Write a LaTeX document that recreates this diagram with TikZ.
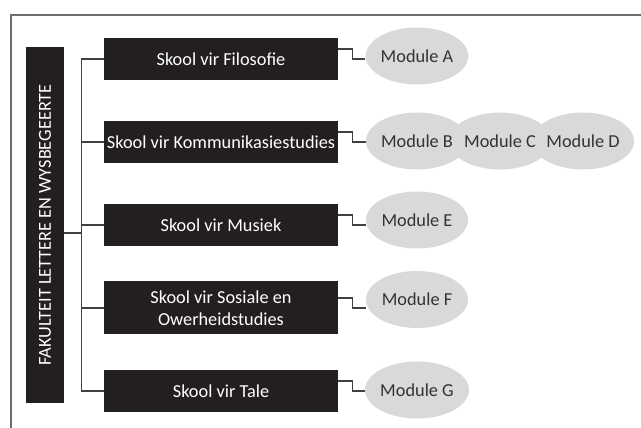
\documentclass[tikz,border=0pt]{standalone}
\usepackage{fontspec}
\setmainfont{Carlito}
\usetikzlibrary{positioning,shapes.geometric,backgrounds}
\definecolor{boxblack}{HTML}{231F20}
\definecolor{modgray}{HTML}{D9D9D9}
\definecolor{linkgray}{HTML}{404040}
\definecolor{framegray}{HTML}{6E6E6E}

\begin{document}
\begin{tikzpicture}[x=1pt,y=1pt,node distance=83pt,
  school node/.style={fill=boxblack,text=white,minimum width=234pt,minimum height=42pt,inner sep=0pt,align=center,font=\fontsize{18.3}{22}\selectfont},
  fak node/.style={school node,rotate=90,minimum width=356pt,minimum height=38pt},
  module node/.style={ellipse,fill=modgray,text=black!80,minimum width=102pt,minimum height=57pt,inner sep=0pt,font=\fontsize{18.3}{22}\selectfont},
  link/.style={draw=linkgray,line width=1.2pt}]

    \useasboundingbox (0,0) rectangle (641,428);
    \draw[framegray,line width=1.5pt] (11,0) -- (11,413) -- (641,413);

    \node[fak node] (fak) at (45,203) {FAKULTEIT LETTERE EN WYSBEGEERTE};

    \node[school node] (s1) at (221,369) {Skool vir Filosofie};
    \node[school node] (s2) [below of = s1] {Skool vir Kommunikasiestudies};
    \node[school node] (s3) [below of = s2] {Skool vir Musiek};
    \node[school node,minimum height=53pt] (s4) [below of = s3] {Skool vir Sosiale en\\Owerheidstudies};
    \node[school node] (s5) [below of = s4] {Skool vir Tale};

    \node[module node] (mA) [node distance=196pt, right of = s1, yshift=3pt] {Module A};
    % overlapping row: filled behind, text on top
    \node[module node,fill=none] (mB) [node distance=196pt, right of = s2, yshift=1pt] {Module B};
    \node[module node,fill=none] (mC) [right of = mB] {Module C};
    \node[module node,fill=none] (mD) [right of = mC] {Module D};
    \node[module node] (mE) [node distance=196pt, right of = s3, yshift=5pt] {Module E};
    \node[module node] (mF) [node distance=196pt, right of = s4, yshift=8.5pt] {Module F};
    \node[module node] (mG) [node distance=196pt, right of = s5, yshift=1pt] {Module G};

    \begin{scope}[on background layer]
        \foreach \s/\m in {s1/mA,s2/mB,s3/mE,s4/mF,s5/mG}
            \draw[link] ([yshift=10pt]\s.east) -- ++(14,0) |- (\s.east -| \m.west);
        \draw[link] (s1.west) -- ++(-22,0) |- (s5.west);
        \foreach \s in {s2,s3,s4}
            \draw[link] (\s.west) -- ++(-22,0);
        \draw[link] ([yshift=-8pt]fak.south) -- ++(18,0);
        \foreach \m in {mB,mC,mD}
            \fill[modgray] (\m) ellipse [x radius=51, y radius=28.5];
    \end{scope}
\end{tikzpicture}
\end{document}
